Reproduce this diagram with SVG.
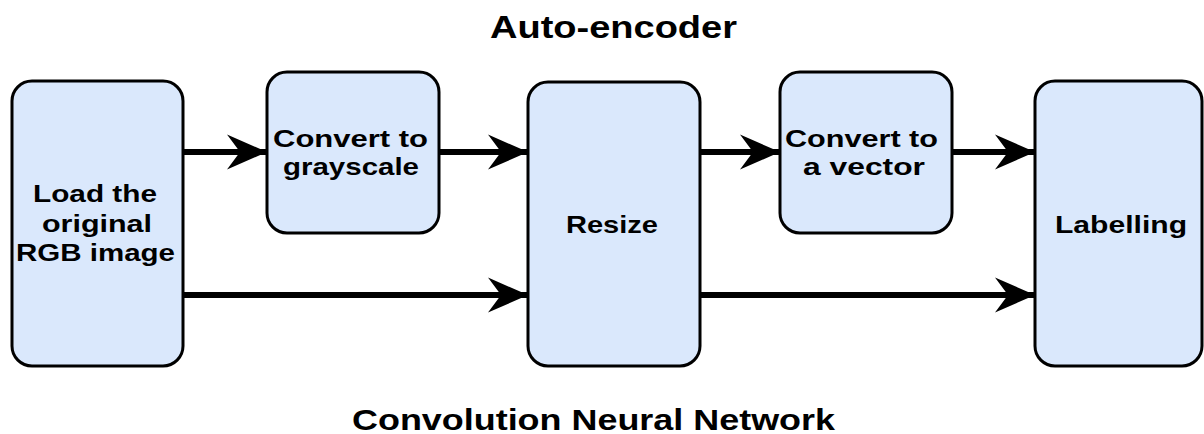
<svg xmlns="http://www.w3.org/2000/svg" width="1204" height="434" viewBox="0 0 1204 434">
  <style>
    .box { fill: #dae8fc; stroke: #000; stroke-width: 3; }
    .lbl { font-family: "Liberation Sans", Arial, sans-serif; font-weight: bold; font-size: 24px; fill: #000; text-anchor: middle; }
    .ttl { font-family: "Liberation Sans", Arial, sans-serif; font-weight: bold; fill: #000; text-anchor: middle; }
    .edge { stroke: #000; stroke-width: 6; fill: none; marker-end: url(#head); }
  </style>
  <defs>
    <marker id="head" markerUnits="userSpaceOnUse" viewBox="-42 -19 43 38" markerWidth="43" markerHeight="38" refX="0" refY="0" orient="auto">
      <path d="M0,0 L-40,-17.5 L-27,0 L-40,17.5 Z" fill="#000"/>
    </marker>
  </defs>

  <rect width="1204" height="434" fill="#fff"/>

  <text class="ttl" x="613.5" y="38" font-size="32" textLength="247" lengthAdjust="spacingAndGlyphs">Auto-encoder</text>
  <text class="ttl" x="593.5" y="430" font-size="30" textLength="483" lengthAdjust="spacingAndGlyphs">Convolution Neural Network</text>

  <g id="connectors">
    <line class="edge" x1="183" y1="152" x2="267" y2="152"/>
    <line class="edge" x1="439" y1="152" x2="528" y2="152"/>
    <line class="edge" x1="700" y1="152" x2="780" y2="152"/>
    <line class="edge" x1="952" y1="152" x2="1035" y2="152"/>
    <line class="edge" x1="183" y1="295" x2="528" y2="295"/>
    <line class="edge" x1="700" y1="295" x2="1035" y2="295"/>
  </g>

  <g id="load">
    <rect class="box" x="12" y="81" width="171" height="285" rx="20"/>
    <text class="lbl" x="95" y="202" textLength="124" lengthAdjust="spacingAndGlyphs">Load the</text>
    <text class="lbl" x="97" y="232" textLength="110" lengthAdjust="spacingAndGlyphs">original</text>
    <text class="lbl" x="95.5" y="261" textLength="159" lengthAdjust="spacingAndGlyphs">RGB image</text>
  </g>

  <g id="grayscale">
    <rect class="box" x="267" y="72" width="172" height="161" rx="20"/>
    <text class="lbl" x="350.5" y="147" textLength="155" lengthAdjust="spacingAndGlyphs">Convert to</text>
    <text class="lbl" x="351" y="175" textLength="136" lengthAdjust="spacingAndGlyphs">grayscale</text>
  </g>

  <g id="resize">
    <rect class="box" x="528" y="82" width="172" height="284" rx="20"/>
    <text class="lbl" x="612" y="233" textLength="92" lengthAdjust="spacingAndGlyphs">Resize</text>
  </g>

  <g id="vector">
    <rect class="box" x="780" y="72" width="172" height="161" rx="20"/>
    <text class="lbl" x="861.5" y="147" textLength="153" lengthAdjust="spacingAndGlyphs">Convert to</text>
    <text class="lbl" x="864" y="175" textLength="122" lengthAdjust="spacingAndGlyphs">a vector</text>
  </g>

  <g id="labelling">
    <rect class="box" x="1035" y="81" width="167" height="285" rx="20"/>
    <text class="lbl" x="1121" y="233" textLength="132" lengthAdjust="spacingAndGlyphs">Labelling</text>
  </g>
</svg>
